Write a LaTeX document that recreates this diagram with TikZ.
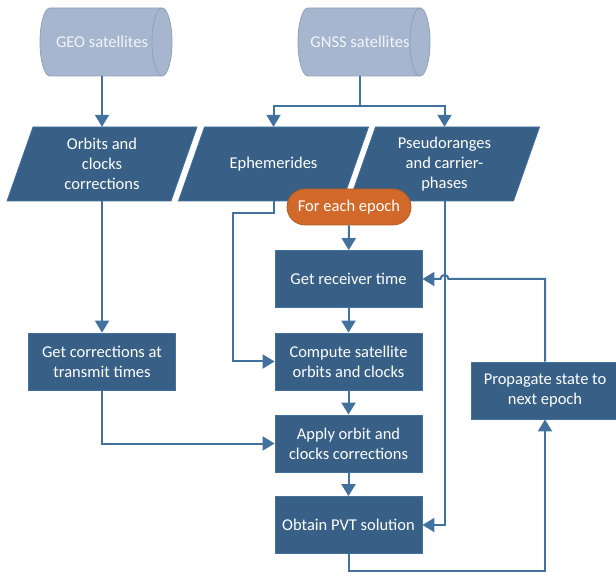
\documentclass[tikz,border=0pt]{standalone}
\usepackage{fontspec}
\setmainfont{Carlito}
\usetikzlibrary{arrows.meta,shapes.geometric}
\definecolor{boxfill}{HTML}{386086}
\definecolor{boxline}{HTML}{41719C}
\definecolor{connc}{HTML}{41719C}
\definecolor{cylfill}{HTML}{A6B6CE}
\definecolor{cylline}{HTML}{8EA1BC}
\definecolor{cyltext}{HTML}{F3F5F9}
\definecolor{orfill}{HTML}{D0692A}
\definecolor{orline}{HTML}{B65A20}
\begin{document}
\begin{tikzpicture}[x=1pt,y=-1pt,
  txt/.style={font=\fontsize{16.5}{20}\selectfont, text=white, align=center},
  procbox/.style={txt, rectangle, fill=boxfill, draw=boxline, line width=0.8pt,
    minimum width=147pt, minimum height=57pt, inner sep=2pt},
  datatext/.style={txt, rectangle, minimum width=164pt, minimum height=74pt, inner sep=0pt},
  databody/.style={fill=boxfill, draw=boxline, line width=0.8pt},
  storetext/.style={txt, text=cyltext, minimum width=124pt, minimum height=68pt, inner sep=0pt},
  cylbody/.style={fill=cylfill, draw=cylline, line width=0.8pt},
  termbox/.style={txt, rectangle, rounded corners=18pt, fill=orfill, draw=orline,
    line width=0.8pt, minimum width=124pt, minimum height=36pt, inner sep=2pt},
  conn/.style={draw=connc, line width=2pt, -{Triangle[length=12pt,width=14pt]}},
  plainconn/.style={draw=connc, line width=2pt}
]
\clip (0,0) rectangle (616,577);
% cylinders
\foreach \cx in {102,360}{
  \path[cylbody] (\cx-52,8) -- (\cx+60,8)
     arc[start angle=90,end angle=-90,x radius=10pt,y radius=34pt]
     -- (\cx-52,76)
     arc[start angle=270,end angle=90,x radius=10pt,y radius=34pt] -- cycle;
  \draw[cylline, line width=0.8pt] (\cx+60,8)
     arc[start angle=90,end angle=270,x radius=10pt,y radius=34pt];
}
\node[storetext] (geo) at (102,42) {GEO satellites};
\node[storetext] (gnss) at (360,42) {GNSS satellites};

% data (parallelograms)
\foreach \cx in {102,273.5,444.5}{
  \path[databody] (\cx-82+13,127) -- (\cx+82+13,127) -- (\cx+82-13,201) -- (\cx-82-13,201) -- cycle;
}
\node[datatext] (orbits) at (102,164) {Orbits and\\clocks\\corrections};
\node[datatext] (eph) at (273.5,164) {Ephemerides};
\node[datatext] (pseudo) at (444.5,164) {Pseudoranges\\and carrier-\\phases};

% process
\node[termbox] (epoch) at (349,207) {For each epoch};
\node[procbox] (recv) at (348.5,279) {Get receiver time};
\node[procbox] (comp) at (348.5,361.5) {Compute satellite\\orbits and clocks};
\node[procbox] (apply) at (348.5,443.5) {Apply orbit and\\clocks corrections};
\node[procbox] (pvt) at (348.5,525) {Obtain PVT solution};
\node[procbox] (corr) at (102,361.5) {Get corrections at\\transmit times};
\node[procbox] (prop) at (545,390.5) {Propagate state to\\next epoch};

% connectors
\coordinate (split) at (360,106);
\coordinate (ebend) at (233,213);
\coordinate (pbot) at (348.5,571);
\coordinate (jump) at (448.5,279);

\draw[conn] (geo) -- (orbits);
\draw[plainconn] (gnss) -- (split);
\draw[conn] (split) -| (eph.north);
\draw[conn] (split) -| (pseudo.north);
\draw[conn] (orbits) -- (corr);
\draw[conn] (corr.south) |- (apply.west);
\draw[conn] (eph.south) |- (ebend) |- (comp.west);
\draw[conn] (pseudo.south) |- (pvt.east);
\draw[conn] (epoch) -- (recv);
\draw[conn] (recv) -- (comp);
\draw[conn] (comp) -- (apply);
\draw[conn] (apply) -- (pvt);
\draw[conn] (pvt.south) -- (pbot) -| (prop.south);
\draw[conn] (prop.north) |- (jump) arc[start angle=0,end angle=180,radius=4pt] -- (recv.east);
\end{tikzpicture}
\end{document}
